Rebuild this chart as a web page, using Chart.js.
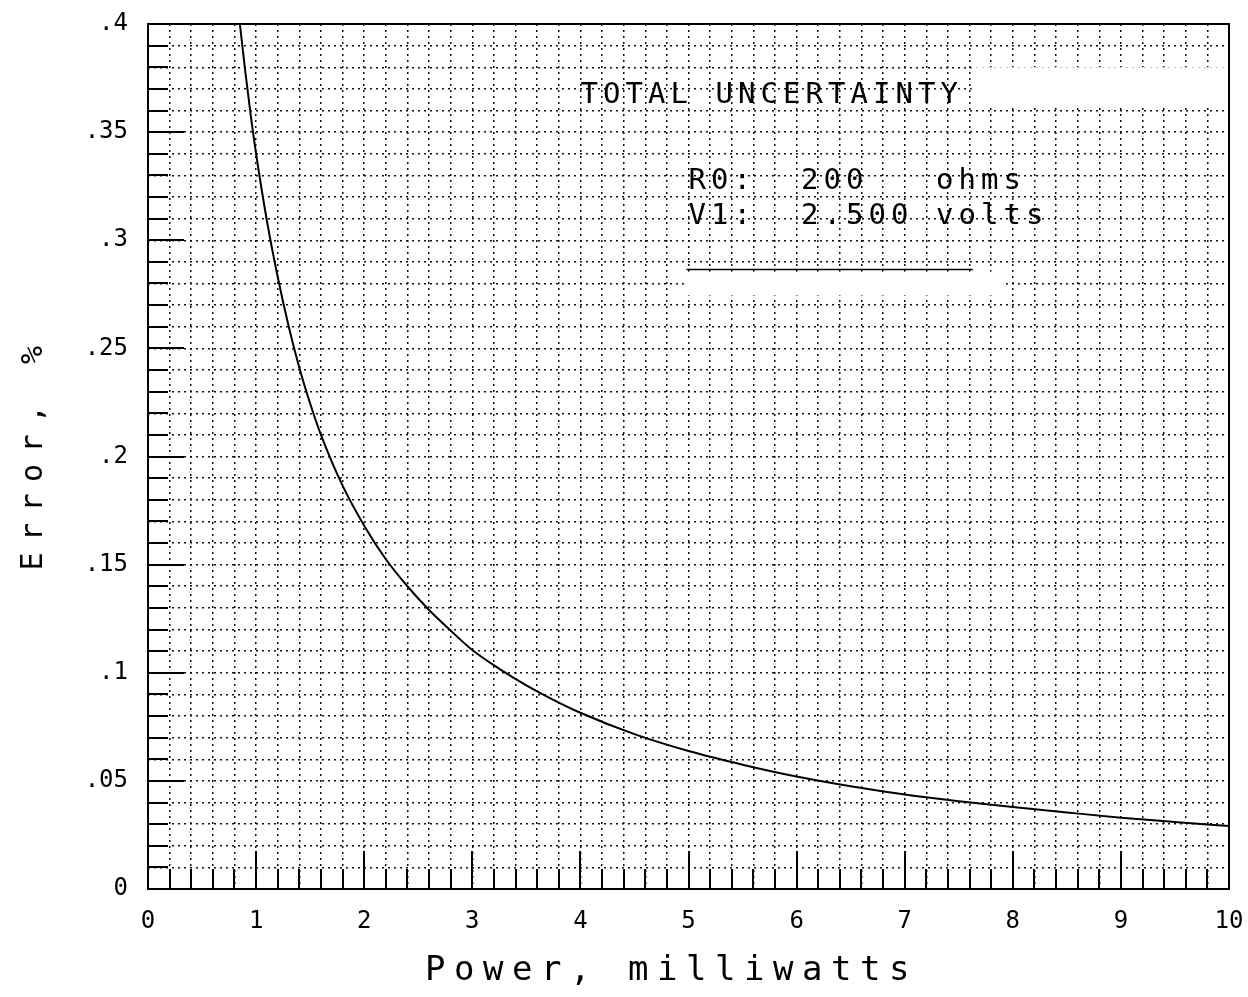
<!DOCTYPE html>
<html>
<head>
<meta charset="utf-8">
<script src="https://cdn.jsdelivr.net/npm/chart.js@4.4.1/dist/chart.umd.min.js"></script>
<style>
  html, body { margin: 0; padding: 0; background: #fff; }
  #wrap { width: 1248px; height: 997px; position: relative; }
</style>
</head>
<body>
<div id="wrap"><canvas id="c" width="1248" height="997"></canvas></div>
<script>
// ---- data ----
const powerMw = [0.85, 0.9, 0.95, 1.0, 1.1, 1.2, 1.3, 1.4, 1.5, 1.6, 1.8, 2.0, 2.2, 2.4, 2.6, 2.8, 3.0,
                 3.25, 3.5, 3.75, 4.0, 4.5, 5.0, 5.5, 6.0, 6.5, 7.0, 7.5, 8.0, 8.5, 9.0, 9.5, 10.0];
const errorPct = [0.400, 0.378, 0.358, 0.340, 0.309, 0.283, 0.2605, 0.241, 0.2245, 0.210, 0.1865, 0.168,
                  0.1525, 0.140, 0.129, 0.1195, 0.1105, 0.1018, 0.0942, 0.0875, 0.0815, 0.0716, 0.0638,
                  0.0575, 0.0520, 0.0475, 0.0437, 0.0406, 0.0379, 0.0354, 0.0330, 0.0310, 0.0291];
const xTickLabels = ['0','1','2','3','4','5','6','7','8','9','10'];
const yTickLabels = ['0','.05','.1','.15','.2','.25','.3','.35','.4'];
const xTitle = 'Power, milliwatts';
const yTitle = 'Error, %';
const noteLines = ['TOTAL UNCERTAINTY', 'R0:  200   ohms', 'V1:  2.500 volts'];

const FONT = '"DejaVu Sans Mono", "Liberation Mono", monospace';

function drawSpaced(ctx, text, x, y, adv) {
  for (let i = 0; i < text.length; i++) ctx.fillText(text[i], x + i * adv, y);
}
function near(v, step) { const k = v / step; return Math.abs(k - Math.round(k)) < 1e-6; }

const plotterPlugin = {
  id: 'plotter',
  beforeDatasetsDraw(chart) {
    const ctx = chart.ctx, xs = chart.scales.x, ys = chart.scales.y;
    ctx.save();
    ctx.fillStyle = '#fff';
    // erased grid patches
    let x0 = xs.getPixelForValue(7.62), x1 = xs.getPixelForValue(9.99);
    let y0 = ys.getPixelForValue(0.380), y1 = ys.getPixelForValue(0.3625);
    ctx.fillRect(x0, y0, x1 - x0, y1 - y0);
    x0 = xs.getPixelForValue(4.97); x1 = xs.getPixelForValue(7.93);
    y0 = ys.getPixelForValue(0.2855); y1 = ys.getPixelForValue(0.2745);
    ctx.fillRect(x0, y0, x1 - x0, y1 - y0);
    ctx.restore();
  },
  afterDatasetsDraw(chart) {
    const ctx = chart.ctx, a = chart.chartArea, xs = chart.scales.x, ys = chart.scales.y;
    ctx.save();
    ctx.strokeStyle = '#000';
    ctx.lineWidth = 2;
    ctx.setLineDash([]);
    // frame
    ctx.strokeRect(a.left, a.top, a.right - a.left, a.bottom - a.top);
    // inner tick marks
    ctx.beginPath();
    ys.ticks.forEach(t => {
      const py = Math.round(ys.getPixelForValue(t.value));
      const len = near(t.value, 0.05) ? 36 : 20;
      ctx.moveTo(a.left, py); ctx.lineTo(a.left + len, py);
    });
    xs.ticks.forEach(t => {
      const px = Math.round(xs.getPixelForValue(t.value));
      const len = near(t.value, 1) ? 38 : 20;
      ctx.moveTo(px, a.bottom); ctx.lineTo(px, a.bottom - len);
    });
    ctx.stroke();
    // annotation underline
    ctx.lineWidth = 1.5;
    ctx.beginPath();
    const ly = ys.getPixelForValue(0.2865);
    ctx.moveTo(xs.getPixelForValue(4.98), ly);
    ctx.lineTo(xs.getPixelForValue(7.63), ly);
    ctx.stroke();
    // annotation text
    ctx.fillStyle = '#000';
    ctx.font = '29px ' + FONT;
    ctx.textBaseline = 'alphabetic';
    ctx.textAlign = 'left';
    drawSpaced(ctx, noteLines[0], xs.getPixelForValue(4.0), ys.getPixelForValue(0.3635), 22.5);
    drawSpaced(ctx, noteLines[1], xs.getPixelForValue(5.0), ys.getPixelForValue(0.3235), 22.5);
    drawSpaced(ctx, noteLines[2], xs.getPixelForValue(5.0), ys.getPixelForValue(0.3075), 22.5);
    // axis titles
    ctx.font = '34px ' + FONT;
    const advX = 29;
    drawSpaced(ctx, xTitle, 425, 980, advX);
    ctx.translate(42, (a.top + a.bottom) / 2);
    ctx.rotate(-Math.PI / 2);
    ctx.font = '30px ' + FONT;
    const advY = 29.5;
    drawSpaced(ctx, yTitle, -(yTitle.length * advY) / 2 + 4, 0, advY);
    ctx.restore();
  }
};

new Chart(document.getElementById('c'), {
  type: 'line',
  data: {
    datasets: [{
      data: powerMw.map((x, i) => ({ x: x, y: errorPct[i] })),
      borderColor: '#000',
      borderWidth: 2,
      pointRadius: 0,
      fill: false,
      cubicInterpolationMode: 'monotone'
    }]
  },
  options: {
    responsive: false,
    animation: false,
    devicePixelRatio: 1,
    layout: { padding: { top: 24, right: 19, left: 0, bottom: 0 } },
    plugins: { legend: { display: false }, tooltip: { enabled: false }, title: { display: false } },
    scales: {
      x: {
        type: 'linear', min: 0, max: 10,
        afterFit(s) { s.height = 108; s.paddingLeft = 0; s.paddingRight = 0; },
        grid: { color: '#111', lineWidth: 1.5, drawTicks: false },
        border: { display: false, dash: [2, 4] },
        ticks: {
          stepSize: 0.2, autoSkip: false, maxRotation: 0, padding: 18,
          color: '#000', font: { family: FONT, size: 24 },
          callback: v => near(v, 1) ? xTickLabels[Math.round(v)] : ''
        }
      },
      y: {
        type: 'linear', min: 0, max: 0.4,
        afterFit(s) { s.width = 148; s.paddingTop = 0; s.paddingBottom = 0; },
        grid: { color: '#111', lineWidth: 1.5, drawTicks: false },
        border: { display: false, dash: [2, 4] },
        ticks: {
          stepSize: 0.01, autoSkip: false, padding: 20,
          color: '#000', font: { family: FONT, size: 24 },
          callback: v => near(v, 0.05) ? yTickLabels[Math.round(v / 0.05)] : ''
        }
      }
    }
  },
  plugins: [plotterPlugin]
});
</script>
</body>
</html>
